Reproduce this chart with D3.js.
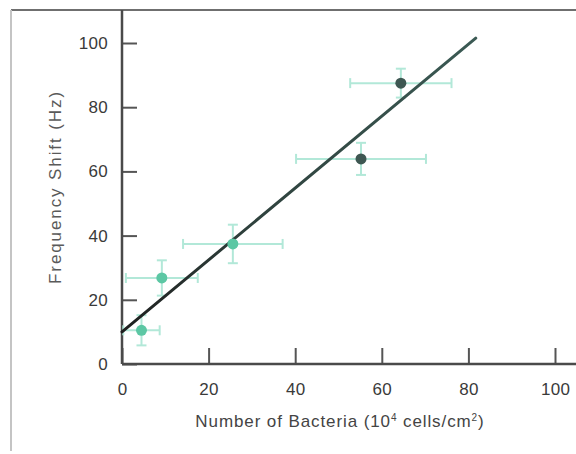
<!DOCTYPE html>
<html>
<head>
<meta charset="utf-8">
<script src="https://cdn.jsdelivr.net/npm/d3@7"></script>
<style>
  body { margin: 0; background: #fff; }
  svg text { font-family: "Liberation Sans", Arial, sans-serif; }
</style>
</head>
<body>
<div id="chart"></div>
<script>
// bacteria count vs frequency shift, with x/y error bars and a linear fit
var bacteria  = [4.5, 9.2, 25.6, 55.2, 64.4];
var freqShift = [10.5, 26.8, 37.4, 63.9, 87.5];
var xErr      = [4.2, 8.3, 11.5, 15, 11.7];
var yErr      = [4.7, 5.5, 6, 5, 4.5];
var pointKind = ["light", "light", "light", "dark", "dark"];

var fitX = [0, 81.7];
var fitY = [10, 101.5];

var xTicks = [0, 20, 40, 60, 80, 100];
var yTicks = [0, 20, 40, 60, 80, 100];

var width = 576, height = 454;

var svg = d3.select("#chart").append("svg")
    .attr("width", width)
    .attr("height", height);

var x = d3.scaleLinear().domain([0, 100]).range([122, 555]);
var y = d3.scaleLinear().domain([0, 100]).range([364, 43]);

// frame of the original figure
svg.append("line").attr("x1", 11).attr("x2", width).attr("y1", 10).attr("y2", 10)
    .attr("stroke", "#6f6f6f").attr("stroke-width", 2);
svg.append("line").attr("x1", 11).attr("x2", 11).attr("y1", 10).attr("y2", 451)
    .attr("stroke", "#c4c4c4").attr("stroke-width", 2);

// axes with inward ticks
var xAxis = svg.append("g")
    .attr("transform", "translate(0," + y(0) + ")")
    .call(d3.axisBottom(x).tickValues(xTicks).tickSizeInner(-16).tickSizeOuter(0).tickPadding(19));
var yAxis = svg.append("g")
    .attr("transform", "translate(" + x(0) + ",0)")
    .call(d3.axisLeft(y).tickValues(yTicks).tickSizeInner(-15).tickSizeOuter(0).tickPadding(14));

[xAxis, yAxis].forEach(function(g) {
    g.select(".domain").remove();
    g.selectAll(".tick line").attr("stroke", "#555").attr("stroke-width", 2);
    g.selectAll(".tick text").attr("fill", "#3a3a3a")
        .style("font-size", "17px").style("letter-spacing", "0.3px");
});

svg.append("line").attr("x1", x(0)).attr("x2", width).attr("y1", y(0)).attr("y2", y(0))
    .attr("stroke", "#4a4a4a").attr("stroke-width", 2.5);
svg.append("line").attr("x1", x(0)).attr("x2", x(0)).attr("y1", y(0)).attr("y2", 10)
    .attr("stroke", "#4a4a4a").attr("stroke-width", 2.5);

var pts = d3.range(bacteria.length).map(function(i) {
    return { x: bacteria[i], y: freqShift[i], ex: xErr[i], ey: yErr[i], kind: pointKind[i] };
});

var errColor = "#b2e8d8";
var eb = svg.append("g");
pts.forEach(function(d) {
    eb.append("line").attr("x1", x(d.x - d.ex)).attr("x2", x(d.x + d.ex))
        .attr("y1", y(d.y)).attr("y2", y(d.y)).attr("stroke", errColor).attr("stroke-width", 2);
    eb.append("line").attr("x1", x(d.x)).attr("x2", x(d.x))
        .attr("y1", y(d.y - d.ey)).attr("y2", y(d.y + d.ey)).attr("stroke", errColor).attr("stroke-width", 2);
    [d.x - d.ex, d.x + d.ex].forEach(function(v) {
        eb.append("line").attr("x1", x(v)).attr("x2", x(v))
            .attr("y1", y(d.y) - 5).attr("y2", y(d.y) + 5).attr("stroke", errColor).attr("stroke-width", 2);
    });
    [d.y - d.ey, d.y + d.ey].forEach(function(v) {
        eb.append("line").attr("x1", x(d.x) - 5).attr("x2", x(d.x) + 5)
            .attr("y1", y(v)).attr("y2", y(v)).attr("stroke", errColor).attr("stroke-width", 2);
    });
});

// fit line, darker near origin
var grad = svg.append("defs").append("linearGradient")
    .attr("id", "fitgrad").attr("gradientUnits", "userSpaceOnUse")
    .attr("x1", x(fitX[0])).attr("y1", y(fitY[0]))
    .attr("x2", x(fitX[1])).attr("y2", y(fitY[1]));
grad.append("stop").attr("offset", "0").attr("stop-color", "#1e1e1e");
grad.append("stop").attr("offset", "0.35").attr("stop-color", "#2e403c");
grad.append("stop").attr("offset", "1").attr("stop-color", "#3b5a54");

svg.append("path")
    .datum(d3.zip(fitX, fitY))
    .attr("d", d3.line().x(function(d) { return x(d[0]); }).y(function(d) { return y(d[1]); }))
    .attr("stroke", "url(#fitgrad)").attr("stroke-width", 3).attr("fill", "none")
    .attr("stroke-linecap", "round");

svg.append("g").selectAll("circle")
    .data(pts).enter().append("circle")
    .attr("cx", function(d) { return x(d.x); })
    .attr("cy", function(d) { return y(d.y); })
    .attr("r", 5.5)
    .attr("fill", function(d) { return d.kind == "dark" ? "#3e5752" : "#5cc7a4"; });

// axis titles
svg.append("text")
    .attr("transform", "translate(61,187) rotate(-90)")
    .attr("text-anchor", "middle")
    .attr("fill", "#5a5a5a")
    .style("font-size", "17px")
    .style("letter-spacing", "1.9px")
    .text("Frequency Shift (Hz)");

var xl = svg.append("text")
    .attr("x", 340).attr("y", 427)
    .attr("text-anchor", "middle")
    .attr("fill", "#444")
    .style("font-size", "17px")
    .style("letter-spacing", "0.9px");
xl.append("tspan").text("Number of Bacteria (10");
xl.append("tspan").attr("dy", -6).style("font-size", "10px").text("4");
xl.append("tspan").attr("dy", 6).text(" cells/cm");
xl.append("tspan").attr("dy", -6).style("font-size", "10px").text("2");
xl.append("tspan").attr("dy", 6).text(")");
</script>
</body>
</html>
